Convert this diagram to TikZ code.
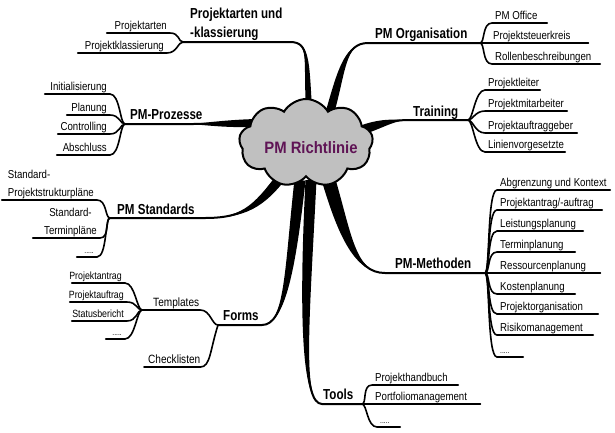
\documentclass[tikz,border=0pt]{standalone}
\usepackage{fontspec}
\setmainfont{Liberation Sans}
\newfontfamily\leaffont{Liberation Sans}[FakeStretch=0.84]
\newfontfamily\branchfont{Liberation Sans}[FakeStretch=0.8]
\newfontfamily\titlefont{Liberation Sans}[FakeStretch=0.9]
\usetikzlibrary{shapes.symbols,calc}
\definecolor{cloudgray}{RGB}{192,192,192}
\definecolor{titlepurple}{RGB}{95,20,85}

\tikzset{
  trunk/.style={line width=2pt, line cap=round, line join=round},
  sub/.style={line width=1.6pt, line cap=round},
  leaf/.style={font=\leaffont\fontsize{11.5}{17.5}\selectfont, inner xsep=0pt,
    inner ysep=2pt, text depth=1.5pt, anchor=south west},
  small leaf/.style={leaf, font=\leaffont\fontsize{10.5}{12}\selectfont},
  dots/.style={leaf, font=\leaffont\fontsize{8}{9}\selectfont},
  mid/.style={leaf, font=\leaffont\fontsize{12}{14}\selectfont},
  branch/.style={font=\branchfont\bfseries\fontsize{14.5}{19}\selectfont,
    inner sep=0pt, anchor=base west},
}

% text boxes of fixed width sitting on an underline
\newcommand\lbox[2]{\makebox[#1pt][l]{\hspace{3pt}#2}}
\newcommand\rbox[2]{\makebox[#1pt][r]{#2\hspace{3pt}}}
% leaf to the right of a fork: [style] name, fork, x, y, length, text
\newcommand\rleaf[7][leaf]{%
  \node[#1] (#2) at (#4,#5) {\lbox{#6}{#7}};
  \draw[sub] (#3) .. controls +(5,0) and +(-10,0) .. (#2.south west) -- (#2.south east);}
% leaf to the left of a fork: [style] name, fork, right x, y, length, text
\newcommand\lleaf[7][leaf]{%
  \node[#1, anchor=south east] (#2) at (#4,#5) {\rbox{#6}{#7}};
  \draw[sub] (#3) .. controls +(-5,0) and +(10,0) .. (#2.south east) -- (#2.south west);}
% tapered main branch: start, c1, c2, end, half-width vector, fork
\newcommand\trunk[6]{%
  \fill ($(#1)+#5$) .. controls ($(#2)+#5$) and (#3) .. (#4)
        .. controls (#3) and ($(#2)-#5$) .. ($(#1)-#5$) -- cycle;
  \draw[trunk] (#1) .. controls (#2) and (#3) .. (#4) -- (#6);}

\begin{document}
\begin{tikzpicture}[x=1pt,y=-1pt]
\fill[white] (0,0) rectangle (615,432);
\useasboundingbox (0,0) rectangle (615,432);

% attachment points at the core and branch forks
\coordinate (pa0) at (309,108);  \coordinate (paF) at (183,42);
\coordinate (po0) at (330,112);  \coordinate (poF) at (480,43);
\coordinate (tr0) at (362,130);  \coordinate (trF) at (468,120);
\coordinate (pm0) at (328,178);  \coordinate (pmF) at (485,273);
\coordinate (to0) at (311,180);  \coordinate (toF) at (362,404);
\coordinate (fo0) at (300,180);  \coordinate (foF) at (218,325);
\coordinate (ps0) at (285,172);  \coordinate (psF) at (110,218);
\coordinate (pp0) at (256,123);  \coordinate (ppF) at (125,124);

% main branches
\trunk{pa0}{306,60}{310,42}{290,42}{(3,0)}{paF}
\trunk{po0}{342,70}{345,43}{368,43}{(4,1.5)}{poF}
\trunk{tr0}{385,122}{395,120}{410,120}{(1.5,4.5)}{trF}
\trunk{pm0}{345,235}{355,273}{385,273}{(6.5,-2)}{pmF}
\trunk{to0}{304,320}{302,404}{322,404}{(5.5,0)}{toF}
\trunk{fo0}{290,270}{285,325}{262,325}{(5.5,0.8)}{foF}
\trunk{ps0}{260,205}{245,218}{205,218}{(3.5,3.5)}{psF}
\trunk{pp0}{220,124}{200,124}{185,124}{(0,4)}{ppF}

% central topic
\node[cloud, cloud puffs=9, cloud puff arc=120, cloud ignores aspect, draw,
  line width=2pt, fill=cloudgray, minimum width=134pt, minimum height=88pt]
  (core) at (306,143) {};
\node[font=\titlefont\bfseries\fontsize{16.5}{20}\selectfont, text=titlepurple]
  (title) at (311,148) {PM Richtlinie};

% branch labels
\node[branch, align=left, anchor=north west] (paL) at (190,8)
  {Projektarten und\\-klassierung};
\node[branch] (poL) at (375,38) {PM Organisation};
\node[branch] (trL) at (413,116) {Training};
\node[branch] (pmL) at (395,268) {PM-Methoden};
\node[branch] (toL) at (323,399) {Tools};
\node[branch] (foL) at (223,320) {Forms};
\node[branch] (psL) at (117,214) {PM Standards};
\node[branch] (ppL) at (130,119) {PM-Prozesse};

% Projektarten und -klassierung
\lleaf{pa1}{paF}{170}{33}{63}{Projektarten}
\lleaf{pa2}{paF}{167}{53}{89}{Projektklassierung}

% PM Organisation
\rleaf{po1}{poF}{492}{23}{55}{PM Office}
\rleaf{po2}{poF}{490}{43}{98}{Projektsteuerkreis}
\rleaf{po3}{poF}{492}{64}{108}{Rollenbeschreibungen}

% Training
\rleaf{tr1}{trF}{485}{90}{55}{Projektleiter}
\rleaf{tr2}{trF}{485}{111}{82}{Projektmitarbeiter}
\rleaf{tr3}{trF}{485}{133}{92}{Projektauftraggeber}
\rleaf{tr4}{trF}{485}{152}{80}{Linienvorgesetzte}

% PM-Methoden
\rleaf{pm1}{pmF}{497}{190}{113}{Abgrenzung und Kontext}
\rleaf{pm2}{pmF}{497}{210}{105}{Projektantrag/-auftrag}
\rleaf{pm3}{pmF}{497}{231}{86}{Leistungsplanung}
\rleaf{pm4}{pmF}{497}{252}{78}{Terminplanung}
\rleaf{pm5}{pmF}{497}{273}{103}{Ressourcenplanung}
\rleaf{pm6}{pmF}{497}{294}{78}{Kostenplanung}
\rleaf{pm7}{pmF}{497}{314}{101}{Projektorganisation}
\rleaf{pm8}{pmF}{497}{335}{96}{Risikomanagement}
\rleaf[dots]{pm9}{pmF}{497}{357}{26}{.....}

% Tools
\rleaf{to1}{toF}{372}{385}{86}{Projekthandbuch}
\rleaf{to2}{toF}{372}{404}{108}{Portfoliomanagement}
\rleaf[dots]{to3}{toF}{377}{427}{23}{.....}

% Forms
\node[mid] (tm) at (142,310) {\lbox{58}{\hspace{8pt}Templates}};
\draw[sub] (foF) .. controls +(-6,0) and +(10,0) .. (tm.south east) -- (tm.south west);
\node[mid] (ck) at (144,367) {\lbox{56}{\hspace{1pt}Checklisten}};
\draw[sub] (foF) .. controls +(-8,25) and +(10,0) .. (ck.south east) -- (ck.south west);
\lleaf[small leaf]{tm1}{tm.south west}{125}{283}{53}{Projektantrag}
\lleaf[small leaf]{tm2}{tm.south west}{127}{302}{57}{Projektauftrag}
\lleaf[small leaf]{tm3}{tm.south west}{127}{321}{55}{Statusbericht}
\lleaf[dots]{tm4}{tm.south west}{125}{339}{19}{.....}

% PM Standards
\lleaf{ps1}{psF}{97}{200}{95}{\begin{tabular}[b]{@{}l@{}}Standard-\\Projektstrukturpläne\end{tabular}}
\lleaf{ps2}{psF}{100}{238}{67}{\begin{tabular}[b]{@{}c@{}}Standard-\\Terminpläne\end{tabular}}
\lleaf[dots]{ps3}{psF}{97}{257}{20}{.....}

% PM-Prozesse
\lleaf{pp1}{ppF}{110}{94}{65}{Initialisierung}
\lleaf{pp2}{ppF}{110}{115}{43}{Planung}
\lleaf{pp3}{ppF}{110}{134}{52}{Controlling}
\lleaf{pp4}{ppF}{110}{155}{53}{Abschluss}
\end{tikzpicture}
\end{document}
